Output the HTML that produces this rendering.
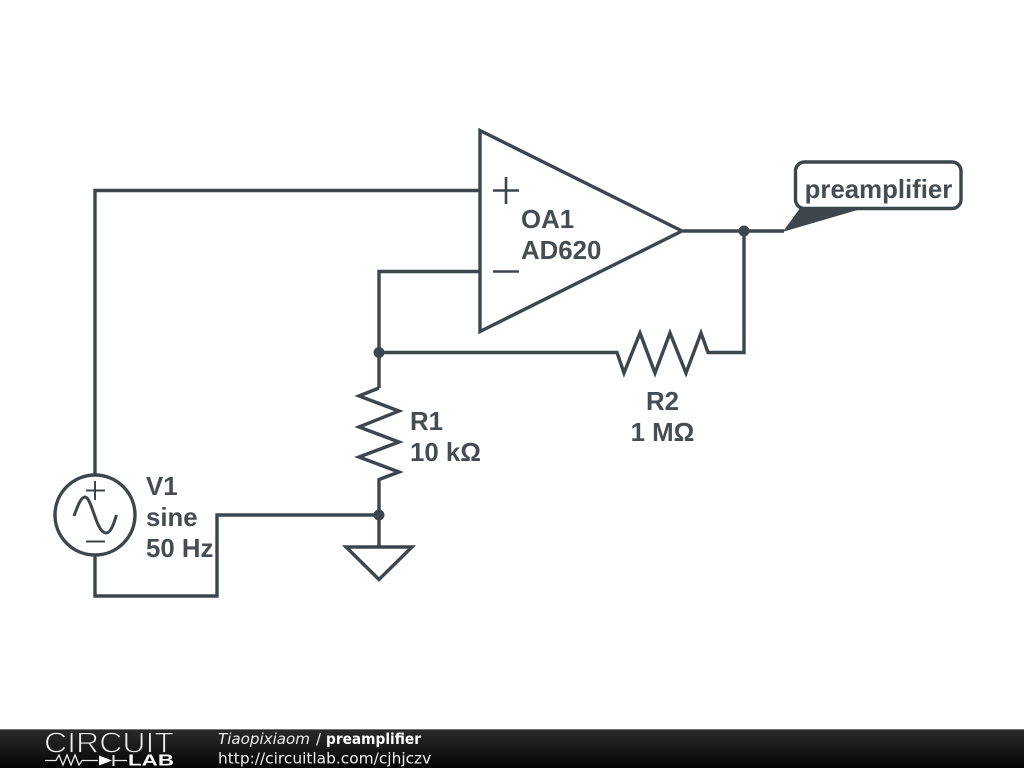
<!DOCTYPE html>
<html><head><meta charset="utf-8"><style>
html,body{margin:0;padding:0;background:#fff;width:1024px;height:768px;overflow:hidden}
svg{display:block}
</style></head><body>
<svg width="1024" height="768" viewBox="0 0 1024 768" xmlns="http://www.w3.org/2000/svg">
<defs><linearGradient id="bar" x1="0" y1="0" x2="0" y2="1"><stop offset="0" stop-color="#2b2b2b"/><stop offset="1" stop-color="#050505"/></linearGradient></defs>
<rect width="1024" height="768" fill="#fff"/>
<g fill="none" stroke="#3d464d" stroke-width="3.4" stroke-linejoin="miter" stroke-linecap="butt">
<path d="M95 474V190.500H480"/>
<path d="M95 556V596H217V515H379"/>
<path d="M480 271.500H379V388"/>
<path d="M379 352.500H617L624 373L640 333L655 373L670 333L686 373L701 333L708 352.500H744V231"/>
<path d="M683 231H784"/>
<path d="M379 388L359 396L399 411L359 427L399 442L359 457L399 472L379 479.500V546"/>
<path d="M480 130.500V331.500L682 231Z"/>
<path d="M493 190.500H519M506 177V204" stroke-width="2.600"/>
<path d="M493 271.500H519" stroke-width="2.600"/>
<circle cx="95" cy="515" r="40"/>
<path d="M86 490.500H105M95 481V500" stroke-width="2"/>
<path d="M86 541.500H105" stroke-width="2"/>
<path d="M74 516C78 505 81 497 85 497C92 497 96 533 106 533C111 533 114 523 116.500 515" stroke-width="3"/>
<path d="M346 547H412L379 579.500Z"/>
<rect x="795.500" y="162" width="165.500" height="46.500" rx="9" ry="9" fill="#fff"/>
</g>
<path d="M784 231L800 209H859Z" fill="#3d464d" stroke="#3d464d" stroke-width="1"/>
<circle cx="379" cy="352.500" r="5.500" fill="#3d464d"/>
<circle cx="379" cy="515" r="5.500" fill="#3d464d"/>
<circle cx="744" cy="231" r="5.500" fill="#3d464d"/>
<g font-family="'Liberation Sans',sans-serif" font-weight="700" font-size="25.800" fill="#454d53">
<text x="521" y="228">OA1</text>
<text x="521" y="259">AD620</text>
<text x="410" y="430">R1</text>
<text x="410" y="461">10 kΩ</text>
<text x="146" y="495">V1</text>
<text x="146" y="526">sine</text>
<text x="146" y="557">50 Hz</text>
<text x="662.500" y="410" text-anchor="middle">R2</text>
<text x="662.500" y="441" text-anchor="middle">1 MΩ</text>
<text x="878.500" y="198" text-anchor="middle">preamplifier</text>
</g>
<rect x="0" y="729" width="1024" height="39" fill="url(#bar)"/>
<rect x="0" y="729" width="1024" height="1" fill="#777"/>
<text x="44" y="752.500" font-family="'Liberation Sans',sans-serif" font-size="28.500" fill="#f0f0f0" stroke="#1f1f1f" stroke-width="1" textLength="130" lengthAdjust="spacingAndGlyphs">CIRCUIT</text>
<g fill="none" stroke="#e8e8e8" stroke-width="1.300">
<path d="M45 760.500H56L59 755L63 765L67 755L71 765L75 755L79 765L82 760.500H98M114 760.500H127"/>
<path d="M113.500 755V766" stroke-width="2"/>
</g>
<path d="M99 755.500L112 760.500L99 765.500Z" fill="#fff"/>
<text x="128" y="765.500" font-family="'Liberation Sans',sans-serif" font-weight="700" font-size="16" fill="#fff" textLength="46" lengthAdjust="spacingAndGlyphs">LAB</text>
<text x="218" y="744" font-family="'DejaVu Sans',sans-serif" font-size="15" font-style="italic" fill="#eee" textLength="92" lengthAdjust="spacingAndGlyphs">Tiaopixiaom</text>
<text x="316" y="744" font-family="'DejaVu Sans',sans-serif" font-size="15" fill="#eee">/</text>
<text x="326" y="744" font-family="'DejaVu Sans',sans-serif" font-size="15" font-weight="700" fill="#fff" textLength="95" lengthAdjust="spacingAndGlyphs">preamplifier</text>
<text x="218" y="763.500" font-family="'DejaVu Sans',sans-serif" font-size="15.400" fill="#eee">http://circuitlab.com/cjhjczv</text>
</svg>
</body></html>
